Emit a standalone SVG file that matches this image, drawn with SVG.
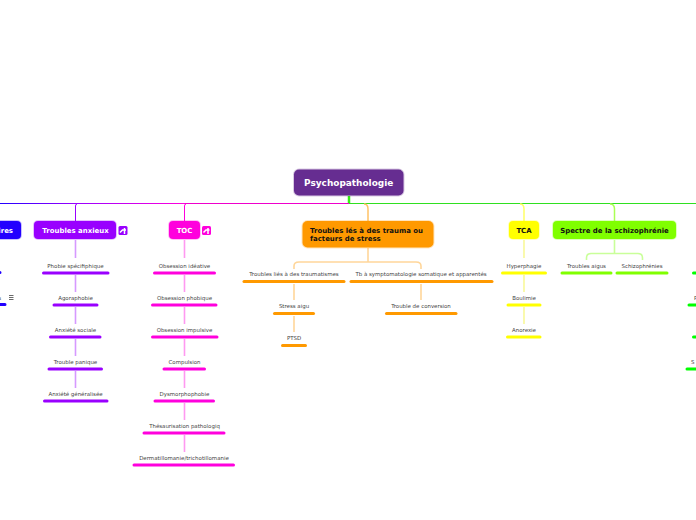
<svg xmlns="http://www.w3.org/2000/svg" width="696" height="520" viewBox="0 0 696 520">
<style>
text{font-family:"DejaVu Sans",Verdana,sans-serif}
.t{font-size:5.450px;fill:#444;text-anchor:middle}
.h{font-size:6.950px;font-weight:bold;text-anchor:middle}
.l{fill:none;stroke-width:1.600;opacity:.4}
.u{stroke-width:3;stroke-linecap:round;fill:none}
.n{stroke-opacity:.25;stroke-width:2}
.i{stroke:#fff;stroke-width:1.500;fill:none}
</style>
<defs>
<linearGradient id="g1" gradientUnits="userSpaceOnUse" x1="0" y1="0" x2="76" y2="0"><stop offset="0" stop-color="#2200ff"/><stop offset="1" stop-color="#9900ff"/></linearGradient>
<linearGradient id="g2" gradientUnits="userSpaceOnUse" x1="76" y1="0" x2="185" y2="0"><stop offset="0" stop-color="#9900ff"/><stop offset="1" stop-color="#ff00dd"/></linearGradient>
</defs>
<rect width="696" height="520" fill="#fff"/>
<g id="connectors">
<path d="M185 203H349V204H185Z" fill="#ee00cc"/>
<path d="M0 203H76V204H0Z" fill="url(#g1)"/>
<path d="M76 203H185V204H76Z" fill="url(#g2)"/>
<path d="M349 203H696V204H349Z" fill="#2fe020"/>
<path d="M349 196V203" fill="none" stroke="#33ee11" stroke-width="2.500"/>
<path d="M77 204Q75.500 204 75.500 206V221" fill="none" stroke="#9900ff" stroke-width="1"/>
<path d="M186 204Q184.500 204 184.500 206V221" fill="none" stroke="#ff00dd" stroke-width="1"/>
<path d="M364 204Q368 204 368 209V221" fill="none" stroke="#ffc266" stroke-width="1.500"/>
<path d="M520 204Q524 204 524 209V221" fill="none" stroke="#ffff66" stroke-width="1.500"/>
<path d="M610 204Q614.500 204 614.500 209V221" fill="none" stroke="#aaff55" stroke-width="1.500"/>
<g class="l" stroke="#9900ff"><path d="M75.500 240V258M75.500 275V292M75.500 307V324M75.500 339V356M75.500 371V388"/></g>
<g class="l" stroke="#ff00dd"><path d="M184.500 240V258M184.500 275V292M184.500 307V324M184.500 339V356M184.500 371V388M184.500 403V420M184.500 435V452"/></g>
<g class="l" stroke="#ff9900"><path d="M368 248V262M294 269V266Q294 262 299 262H416Q421 262 421 266V269M294 284V300M294 316V332M421 284V300"/></g>
<g class="l" stroke="#eeee00"><path d="M524 240V258M524 275V292M524 307V324"/></g>
<g class="l" stroke="#77ff00"><path d="M614.500 240V253.500M586.500 260V258Q586.500 253.500 591 253.500H638Q642.500 253.500 642.500 258V260"/></g>
</g>
<g id="root"><rect x="294" y="169.500" width="109.500" height="26" rx="5" fill="#662d91" stroke="#662d91" class="n"/><text x="348.700" y="186" text-anchor="middle" font-size="8.950" font-weight="bold" fill="#fff">Psychopathologie</text></g>
<g id="n-bipolaires"><rect x="-90" y="221" width="111" height="18" rx="4" fill="#2200ff" stroke="#2200ff" class="n"/><text x="13" y="233" text-anchor="end" font-size="6.950" font-weight="bold" fill="#fff">Troubles bipolaires</text></g>
<g id="n-anxieux"><rect x="34" y="221" width="82" height="18" rx="4" fill="#9900ff" stroke="#9900ff" class="n"/><text x="75.500" y="233" class="h" fill="#fff">Troubles anxieux</text>
<rect x="118.500" y="226" width="9" height="9" rx="1.500" fill="#9900ff"/><path class="i" d="M120 232.500L122.500 230H126M124.500 228V234"/></g>
<g id="n-toc"><rect x="169" y="221" width="31" height="18" rx="4" fill="#ff00dd" stroke="#ff00dd" class="n"/><text x="184.500" y="233" class="h" fill="#fff">TOC</text>
<rect x="202" y="226" width="9" height="9" rx="1.500" fill="#ff00dd"/><path class="i" d="M203.500 232.500L206 230H209.500M208 228V234"/></g>
<g id="n-trauma"><rect x="302.500" y="221" width="131" height="26.500" rx="5" fill="#ff9900" stroke="#ff9900" class="n"/><text x="310" y="233" font-size="6.950" font-weight="bold" fill="#111">Troubles lés à des trauma ou</text><text x="310" y="241" font-size="6.950" font-weight="bold" fill="#111">facteurs de stress</text></g>
<g id="n-tca"><rect x="509" y="221" width="30" height="18" rx="4" fill="#ffff00" stroke="#ffff00" class="n"/><text x="524" y="233" class="h" fill="#111">TCA</text></g>
<g id="n-schizo"><rect x="553" y="221" width="123" height="18" rx="4" fill="#80ff00" stroke="#80ff00" class="n"/><text x="614.500" y="233" class="h" fill="#111">Spectre de la schizophrénie</text></g>
<g id="blue-children"><path class="u" stroke="#2200ff" d="M-20 272.500H0M-40 304.500H5"/><text x="1" y="299.500" font-size="5.450" fill="#444" text-anchor="end">s</text><path d="M9 295.500H13.500M9 297.500H13.500M9 299.500H13.500" stroke="#444" stroke-width=".8"/></g>
<g id="anx-children">
<text class="t" x="75.500" y="268">Phobie spécifiphique</text><path class="u" stroke="#9900ff" d="M43.500 273H108"/>
<text class="t" x="75.500" y="300">Agoraphobie</text><path class="u" stroke="#9900ff" d="M54 305H97"/>
<text class="t" x="75.500" y="332">Anxiété sociale</text><path class="u" stroke="#9900ff" d="M50.500 337H100"/>
<text class="t" x="75.500" y="364">Trouble panique</text><path class="u" stroke="#9900ff" d="M49 369H101.500"/>
<text class="t" x="75.500" y="396">Anxiété généralisée</text><path class="u" stroke="#9900ff" d="M44.500 401H107"/>
</g>
<g id="toc-children">
<text class="t" x="184.500" y="268">Obsession idéative</text><path class="u" stroke="#ff00dd" d="M154.500 273H214.500"/>
<text class="t" x="184.500" y="300">Obsession phobique</text><path class="u" stroke="#ff00dd" d="M152.500 305H216"/>
<text class="t" x="184.500" y="332">Obsession impulsive</text><path class="u" stroke="#ff00dd" d="M152.500 337H217"/>
<text class="t" x="184.500" y="364">Compulsion</text><path class="u" stroke="#ff00dd" d="M164 369H204.500"/>
<text class="t" x="184.500" y="396">Dysmorphophobie</text><path class="u" stroke="#ff00dd" d="M155 401H213.500"/>
<text class="t" x="184.500" y="428">Thésaurisation pathologiq</text><path class="u" stroke="#ff00dd" d="M144 433H224"/>
<text class="t" x="184" y="460">Dermatillomanie/trichotillomanie</text><path class="u" stroke="#ff00dd" d="M134 465H233.500"/>
</g>
<g id="trauma-children">
<text class="t" x="294" y="276">Troubles liés à des traumatismes</text><path class="u" stroke="#ff9900" d="M244 281.500H344"/>
<text class="t" x="421" y="276">Tb à symptomatologie somatique et apparentés</text><path class="u" stroke="#ff9900" d="M351 281.500H492"/>
<text class="t" x="294" y="308">Stress aigu</text><path class="u" stroke="#ff9900" d="M274.500 313.500H313.500"/>
<text class="t" x="421" y="308">Trouble de conversion</text><path class="u" stroke="#ff9900" d="M386.500 313.500H456"/>
<text class="t" x="294" y="340">PTSD</text><path class="u" stroke="#ff9900" d="M282.500 345.500H305.500"/>
</g>
<g id="tca-children">
<text class="t" x="524" y="268">Hyperphagie</text><path class="u" stroke="#ffff00" d="M502.500 273H545.500"/>
<text class="t" x="524" y="300">Boulimie</text><path class="u" stroke="#ffff00" d="M508 305H540"/>
<text class="t" x="524" y="332">Anorexie</text><path class="u" stroke="#ffff00" d="M507.500 337H540"/>
</g>
<g id="schizo-children">
<text class="t" x="586.500" y="268">Troubles aigus</text><path class="u" stroke="#80ff00" d="M562 273H611"/>
<text class="t" x="642" y="268">Schizophrénies</text><path class="u" stroke="#80ff00" d="M617 273H667"/>
</g>
<g id="green-children">
<path class="u" stroke="#00ff00" d="M693.500 273H720M689 305H720M693.500 337H720M687 369H720"/>
<text x="694" y="300" font-size="5.450" fill="#444">P</text><text x="691" y="364" font-size="5.450" fill="#444">S</text>
</g>
</svg>
